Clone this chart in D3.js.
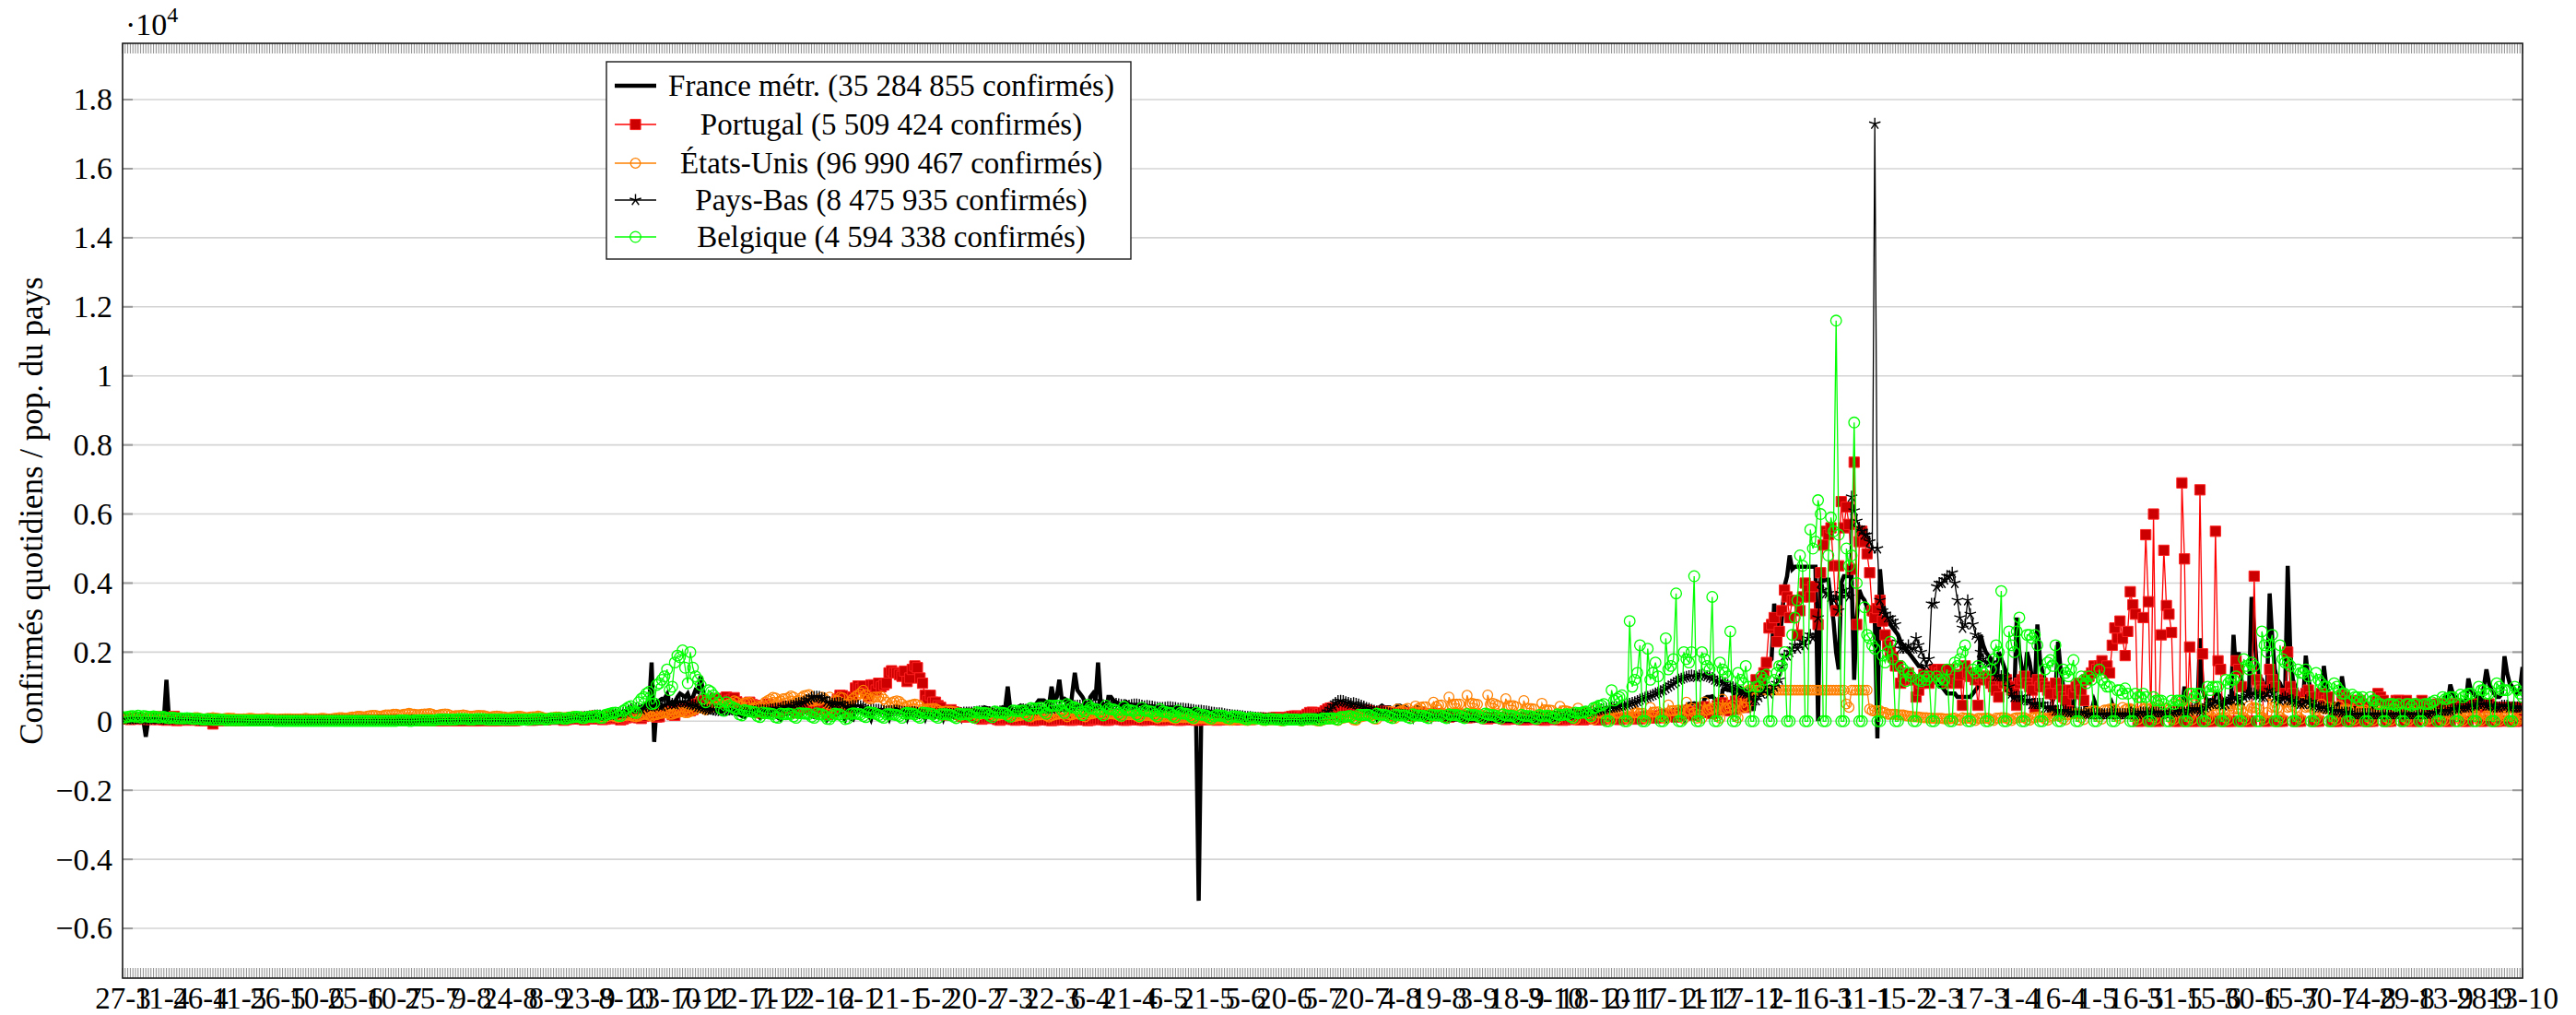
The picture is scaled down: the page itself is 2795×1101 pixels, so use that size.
<!DOCTYPE html>
<html>
<head>
<meta charset="utf-8">
<script src="https://d3js.org/d3.v7.min.js"></script>
<style>
body{margin:0;background:#fff}
svg text{font-family:"Liberation Serif","DejaVu Serif",serif;fill:#000}
</style>
</head>
<body>
<div id="chart"></div>
<script>
// daily confirmed cases / population in hundreds (x 10^2),
// one value per day from 27-3-2020 to 13-10-2022, one line per 15 days
const france = [
0.6,0.8,0.7,0.6,0.5,0.8,1.0,0.9,0.6,-4.5,0.7,0.9,0.8,0.6,0.5,
0.6,0.5,12,0.5,0.4,0.6,0.5,0.6,0.4,0.3,0.5,0.4,0.3,0.3,0.3,
0.3,0.2,0.3,0.4,0.2,0.1,0.2,0.2,0.3,0.1,-0.6,0.2,0.2,0.1,0.2,
0.2,0.1,0.1,0.2,0.1,0.1,0.1,0.1,0.1,0.2,0.1,0.1,0.1,0.1,0.1,
0.1,0.1,0.1,0.1,0.1,0.1,0.1,0.1,0.1,0.1,0.1,0.1,0.1,0.1,0.1,
0.1,0.1,0.1,0.1,0.1,0.1,0.1,0.1,0.1,0.1,0.1,0.1,0.1,0.1,0.1,
0.1,0.1,0.1,0.1,0.1,0.1,0.1,0.1,0.1,0.1,0.1,0.1,0.2,0.1,0.1,
0.1,0.1,0.1,0.1,0.1,0.1,0.1,0.2,0.1,0.1,0.1,0.2,0.2,0.1,0.1,
0.2,0.2,0.1,0.2,0.2,0.2,0.2,0.2,0.1,0.2,0.2,0.3,0.3,0.3,0.2,
0.3,0.3,0.4,0.4,0.4,0.4,0.5,0.5,0.3,0.4,0.6,0.6,0.7,0.7,0.6,
0.7,0.4,0.7,0.8,0.9,1.0,1.1,0.6,0.9,1.1,1.3,1.3,1.3,1.2,0.8,
1.1,1.4,1.5,1.5,1.6,1.3,1.0,1.5,1.7,2.0,2.0,2.0,1.6,1.1,1.6,
2.1,2.5,2.3,2.2,2.0,1.1,1.3,1.4,2.2,2.8,2.5,2.0,1.4,2.5,2.8,
2.8,3.4,4.0,3.1,1.6,2.7,3.8,4.6,5.2,4.0,17,-6,5.0,6.0,6.5,
6.5,7.8,4.0,5.5,5.3,7.0,8.0,7.5,7.0,8.0,6.0,7.0,9.0,8.5,13.0,
8.0,3.5,5.0,7.0,5.0,5.5,6.0,3.0,4.0,5.0,4.5,4.0,3.5,2.0,2.0,
1.5,1.3,2.0,2.0,2.0,2.0,1.7,1.0,1.4,1.8,1.8,1.7,1.7,1.7,1.0,
0.5,2.0,2.0,2.3,2.2,2.0,1.5,1.6,2.6,2.8,2.5,2.2,1.6,1.2,2.0,
2.3,2.4,2.5,0.5,1.5,1.0,2.0,2.0,3.0,2.0,0.5,2.5,0.8,0.5,3.0,
3.0,3.0,2.5,2.5,2.0,0.5,3.0,3.2,3.0,3.0,2.5,2.0,0.6,3.0,3.6,
3.5,3.3,3.0,2.4,0.7,3.0,3.5,3.3,3.0,3.0,2.6,0.8,3.0,3.6,3.3,
3.0,3.0,2.6,0.7,3.0,3.2,3.0,3.0,2.4,2.0,0.6,2.8,3.3,3.3,3.0,
3.0,2.8,0.8,3.0,4.0,3.8,3.6,3.4,2.8,0.9,3.3,4.0,3.8,10,3.5,
3.0,0.8,4.0,4.5,4.0,4.2,4.0,3.5,1.0,5.0,6.0,6.0,6.0,5.5,4.5,
10,6.0,7.0,12,6.0,6.5,6.0,1.5,8.0,14,9.0,8.0,7.0,5.5,2.0,
7.0,8.0,6.0,17,5.5,5.0,1.5,7.0,7.0,6.0,5.5,5.0,4.0,1.0,5.5,
5.0,4.5,4.0,3.5,3.0,0.8,4.5,4.5,4.0,3.5,3.0,2.5,0.6,3.5,3.8,
3.5,3.0,2.5,2.0,0.5,3.0,3.0,2.5,2.0,1.5,1.5,0.5,-52,2.2,2.0,
1.8,1.5,1.2,0.3,1.5,1.5,1.3,1.2,1.0,0.8,0.3,1.0,1.0,0.9,0.8,
0.7,0.6,0.2,0.7,0.6,0.6,0.5,0.5,0.4,0.1,0.5,0.5,0.4,0.4,0.3,
0.3,0.1,0.4,0.4,0.3,0.3,0.3,0.3,0.1,0.4,0.4,0.4,0.4,0.4,0.3,
0.1,0.6,0.7,0.8,0.8,0.9,0.7,0.3,1.2,1.5,1.8,1.8,2.0,1.5,0.5,
3.0,3.5,3.5,3.3,3.5,3.0,1.0,4.0,4.5,4.0,4.0,4.0,3.0,1.2,4.5,
4.5,4.0,4.0,3.5,3.0,1.0,4.0,4.0,3.5,3.5,3.0,2.5,0.8,3.5,3.3,
3.0,2.8,2.5,2.0,0.6,2.5,2.5,2.2,2.0,1.8,1.5,0.5,2.0,2.0,1.5,
1.4,1.2,1.0,0.3,1.3,1.2,1.0,1.0,0.9,0.7,0.2,1.0,1.0,0.8,0.7,
0.7,0.5,0.2,0.7,0.7,0.6,0.6,0.5,0.4,0.1,0.7,0.6,0.5,0.5,0.5,
0.4,0.1,0.6,0.6,0.5,0.5,0.5,0.4,0.1,0.6,0.6,0.6,0.6,0.5,0.4,
0.2,0.8,0.9,0.8,0.8,0.7,0.5,0.2,1.0,1.0,1.0,1.0,0.9,0.7,0.2,
1.4,1.5,1.5,1.4,1.2,0.8,0.3,2.0,2.2,2.3,1.5,1.8,1.2,0.4,2.8,
3.0,3.2,3.0,2.6,1.9,0.6,4.4,5.0,5.0,5.2,5.0,3.5,1.5,6.6,7.0,
7.0,7.2,6.5,4.8,1.8,9.0,9.5,9.0,9.0,8.5,6.0,2.0,9.5,9.0,8.5,
8.5,6,3,10,12,13,14,16,17,18,34,30,22,30,39,
42,48,44,44.7,44.7,44.7,44.7,44.7,44.7,44.7,44.7,44.7,0,41,41,
41,41,35,29,20,15,40,42,42,42,42,12,30,38,36,
35,33,31,30,29,-5,44,35,31,29,28,27,26,25,23,
22,21,20,19,18,17,16,16,15,14,14,13,12,11,10,
10,9,8,8,8,8,7,7,7,7,7,7,8,9,10,
25,22,20,19,18,12,8,20,18,16,14,13,8,6,30,
20,15,12,20,17,12,10,28,18,14,12,9,7,6,8,
23,15,10,9,8,5,4,10,7,6,5,4,3,3,6,
4,3,3,2,2,2,5,3,3,2,2,2,2,4,3,
2,2,2,2,2,2,4,3,2,2,2,2,2,3,2,
2,3,2,3,10,5,4,4,3,3,24,9,7,6,6,
6,8,8,7,6,6,6,5,25,14,20,12,10,9,8,
36,26,16,13,12,10,9,37,24,15,12,11,9,8,45,
20,12,10,8,7,6,19,12,9,8,7,6,5,16,10,
8,6,5,5,4,13,8,6,5,5,4,4,7,6,5,
5,4,4,4,6,5,5,4,4,3,4,6,5,5,4,
4,3,3,5,5,4,4,4,4,6,5,5,4,4,5,
7,5,10.6,8,7,6,6,5,5,12.4,9,8,7,7,6,
10,15,11,9,8,7,7,8,18.8,14,11,10,9,8,9,
15.7];

const portugal = [
0.7,0.8,0.9,0.5,0.8,0.7,1.0,0.6,0.6,0.7,0.6,0.5,0.7,1.3,0.5,
0.6,0.4,0.3,0.5,0.6,1.4,0.2,0.5,0.3,0.5,0.6,0.4,0.3,0.4,0.6,
0.2,0.2,0.2,0.2,0.3,-0.8,0.3,0.2,0.3,0.2,0.3,0.5,0.2,0.5,0.2,
0.2,0.3,0.2,0.2,0.2,0.2,0.2,0.3,0.3,0.2,0.2,0.3,0.2,0.2,0.2,
0.3,0.3,0.4,0.3,0.2,0.2,0.2,0.3,0.4,0.4,0.3,0.3,0.3,0.3,0.4,
0.3,0.3,0.3,0.3,0.3,0.4,0.4,0.3,0.3,0.3,0.4,0.4,0.4,0.3,0.3,
0.4,0.3,0.3,0.4,0.4,0.4,0.4,0.3,0.3,0.3,0.4,0.4,0.3,0.3,0.3,
0.4,0.4,0.3,0.3,0.2,0.3,0.3,0.3,0.3,0.2,0.2,0.2,0.2,0.2,0.2,
0.2,0.2,0.2,0.1,0.2,0.2,0.2,0.2,0.2,0.2,0.1,0.2,0.2,0.1,0.2,
0.2,0.1,0.1,0.2,0.3,0.3,0.2,0.2,0.1,0.1,0.2,0.3,0.2,0.3,0.3,
0.2,0.2,0.2,0.3,0.4,0.4,0.4,0.4,0.3,0.3,0.4,0.4,0.4,0.4,0.4,
0.6,0.6,0.6,0.7,0.6,0.6,0.3,0.5,0.6,0.7,0.7,0.8,0.7,0.6,0.4,
0.7,0.8,0.8,0.8,0.7,0.7,0.5,0.6,0.8,0.8,0.9,0.9,0.8,0.4,0.6,
1.0,1.1,1.4,1.2,1.2,1.0,0.8,1.4,2.0,2.1,2.0,2.1,1.2,1.3,2.5,
3.0,2.8,2.7,1.9,1.7,2.8,3.5,3.4,4.1,4.0,3.0,3.4,4.8,5.0,5.6,
6.0,4.1,4.2,6.0,5.8,6.5,6.6,4.8,4.3,7.0,6.0,6.3,6.8,5.6,4.5,
4.0,4.3,4.7,5.5,4.8,4.6,3.2,2.4,3.3,4.0,5.0,4.0,3.7,3.0,2.8,
3.2,3.7,4.3,4.1,4.4,3.6,2.4,3.1,4.1,4.5,4.2,4.0,3.3,2.7,3.3,
4.0,5.2,3.9,2.0,2.7,2.7,4.2,6.4,7.5,7.4,4.6,2.5,4.6,7.0,9.6,
10.2,9.5,10.2,8.2,7.2,10.5,10.5,9.0,11.0,10.0,10.5,11.0,14.0,14.6,14.0,
14.0,13.5,13.0,14.5,11.5,12.5,15.0,16.0,15.5,12.5,11.0,7.5,6.0,7.5,5.5,
5.5,4.5,4.0,2.5,1.8,2.5,3.3,2.7,2.5,2.0,1.4,1.2,1.5,2.0,1.5,
1.3,1.1,0.8,0.6,0.8,1.0,1.1,1.0,0.8,0.5,0.3,0.6,0.7,0.7,0.6,
0.5,0.3,0.4,0.5,0.6,0.5,0.4,0.3,0.2,0.3,0.4,0.4,0.4,0.4,0.3,
0.2,0.3,0.4,0.5,0.5,0.5,0.4,0.3,0.3,0.5,0.6,0.6,0.5,0.4,0.2,
0.3,0.6,0.6,0.6,0.5,0.5,0.3,0.3,0.6,0.6,0.6,0.6,0.5,0.3,0.3,
0.5,0.5,0.5,0.5,0.4,0.3,0.3,0.5,0.5,0.4,0.4,0.4,0.3,0.3,0.4,
0.5,0.5,0.5,0.4,0.3,0.3,0.4,0.5,0.5,0.5,0.4,0.3,0.3,0.4,0.5,
0.5,0.6,0.5,0.4,0.3,0.4,0.5,0.6,0.6,0.5,0.4,0.4,0.5,0.6,0.7,
0.7,0.6,0.5,0.6,0.8,0.9,0.9,0.9,0.7,0.6,0.8,1.0,1.1,1.1,0.9,
0.8,0.9,1.2,1.4,1.5,1.5,1.3,1.1,1.5,2.0,2.5,2.6,2.3,2.0,2.2,
2.5,3.0,3.5,3.8,3.9,3.0,2.5,3.2,3.8,3.8,3.7,3.2,2.5,2.2,3.0,
3.1,3.0,3.2,3.0,2.6,2.0,2.3,2.7,2.8,2.8,2.6,2.3,1.7,2.0,2.4,
2.5,2.5,2.4,2.0,1.7,2.0,2.4,2.5,2.3,2.2,1.9,1.5,1.6,2.1,2.2,
2.1,2.0,1.8,1.5,1.2,1.6,2.0,1.9,1.8,1.7,1.4,1.0,1.1,1.4,1.3,
1.3,1.2,1.1,0.8,0.7,1.0,1.1,1.1,1.0,0.9,0.7,0.5,0.6,0.8,0.8,
0.8,0.7,0.5,0.4,0.5,0.6,0.6,0.6,0.6,0.5,0.4,0.3,0.5,0.6,0.6,
0.6,0.5,0.4,0.3,0.4,0.6,0.6,0.6,0.6,0.5,0.4,0.4,0.6,0.7,0.7,
0.7,0.6,0.4,0.4,0.6,0.8,0.9,0.9,0.8,0.7,0.5,0.6,0.9,1.0,1.0,
1.0,0.9,0.6,0.7,1.1,1.3,1.5,1.5,1.3,0.9,1.0,1.6,1.9,2.0,1.9,
1.8,1.4,1.2,1.8,2.5,3.0,3.1,2.7,2.1,1.7,2.4,3.6,3.9,4.2,3.4,
2.5,2.2,3.2,4.5,5.0,5.3,4.6,3.5,3.0,4.5,5.8,5.8,5.6,5.0,4.0,
6,7,9,12,10,11,14,17,27,28,30,23,26,32,38,
36,30,35,35,25,32,36,40,38,36,39,31,28,43,51,
55,54,56,45,32,45,63.6,56,62,57,44,75,28,52,55,
52,48.5,43,32,30,32.6,35,29,25,22,20,18.6,16,16,11,
13,12,14,12,12,7,9,11,13.5,12,11,13,15,15,14,
15,13,11,15,13,12,11,13.5,4.6,16,14,13,13,12,4.6,
13,12,13,12,11,10,9,7,12,11,12,10,9,10,4.6,
11,12,13,11,10,9,4,12,10,11,10,9,8,3,11,
8,9,7,6,3,9,8,10,11,9,6,12,13,14,16,
15,16,17.5,15,16,14,22,27,24,29,24,19,26,37.5,33.7,
31,0,0,30,54,34.6,0,60,0,0,25,49.5,33.5,31,25.7,
0,0,0,69,47,0,21.5,0,0,0,67,19.5,0,0,0,
0,55,17.5,15,0,0,0,0,0,17.5,15,10,0,0,0,
0,42,12,10,9,0,0,15,12,10,0,0,0,8,20,
10,8,0,0,0,7,8,9,7,0,0,0,8,7,6,
7,0,0,0,0,7.5,7,6,0,0,0,6,6,5,0,
0,0,0,6,8,7,6,0,0,0,5,6,6,5,0,
6,5,0,0,0,5,6,5,4,0,0,0,5,5,4,
0,0,0,5,5,4,4,0,0,0,4,5,4,4,0,
0,4,5,4,0,0,0,4,4,4,0,0,0,4,3,
0];

const usa = [
0.6,0.6,0.7,0.8,0.8,0.9,1.0,1.0,0.8,0.9,0.9,1.0,1.0,1.0,1.0,
0.9,0.8,0.8,0.8,0.9,0.9,1.0,0.9,0.8,0.8,0.9,0.8,0.9,1.0,1.0,
0.8,0.7,0.7,0.8,0.9,1.0,0.9,0.8,0.7,0.7,0.8,0.9,0.8,0.8,0.6,
0.6,0.6,0.7,0.7,0.8,0.8,0.7,0.6,0.6,0.7,0.7,0.8,0.7,0.6,0.6,
0.5,0.6,0.6,0.7,0.7,0.7,0.6,0.6,0.6,0.6,0.7,0.8,0.7,0.6,0.6,
0.7,0.7,0.8,0.8,0.7,0.6,0.7,0.8,0.9,1.0,1.0,0.9,0.9,1.1,1.2,
1.2,1.4,1.4,1.3,1.3,1.5,1.6,1.7,1.7,1.5,1.4,1.6,1.8,1.8,1.8,
2.0,2.0,1.8,1.8,2.0,2.1,2.3,2.1,2.0,1.9,1.9,2.0,2.1,2.1,2.2,
2.0,1.7,1.7,1.9,2.0,2.1,2.0,1.7,1.4,1.6,1.6,1.7,1.8,1.7,1.5,
1.4,1.5,1.6,1.7,1.6,1.6,1.4,1.2,1.3,1.4,1.5,1.4,1.3,1.2,1.0,
1.1,1.2,1.3,1.4,1.4,1.3,1.1,1.0,1.2,1.3,1.3,1.5,1.3,1.0,0.8,
0.8,1.0,1.1,1.2,1.2,1.0,1.0,1.1,1.2,1.3,1.4,1.2,1.0,1.3,1.2,
1.3,1.4,1.6,1.5,1.1,1.1,1.3,1.3,1.4,1.7,1.5,1.3,1.1,1.3,1.5,
1.7,1.8,1.6,1.4,1.3,1.5,1.8,2.0,2.1,1.7,1.4,1.8,1.9,2.2,2.3,
2.5,2.5,2.0,2.0,2.3,2.5,2.7,2.9,2.5,2.5,2.8,3.2,3.6,3.9,3.9,
3.8,3.3,3.6,4.1,4.3,4.8,5.0,4.8,4.0,4.7,5.0,5.2,5.9,5.5,4.5,
4.3,5.3,5.4,5.5,3.6,3.9,4.4,4.0,4.6,5.5,6.0,6.4,6.9,6.7,5.6,
5.9,6.5,6.6,6.8,7.3,7.0,5.8,6.0,6.8,7.4,7.5,7.7,5.8,5.8,6.2,
6.0,7.0,6.5,3.0,7.0,4.5,6.0,6.0,7.0,6.8,5.0,5.0,5.5,6.5,7.2,
7.6,8.2,9.0,7.7,6.6,6.4,7.0,7.0,7.0,7.2,6.4,5.5,4.2,5.4,5.7,
5.9,5.7,5.0,4.1,4.4,4.6,4.8,5.0,4.8,4.3,3.4,3.3,3.6,3.6,3.7,
3.6,3.2,2.6,2.8,2.9,2.9,2.9,2.7,2.4,1.9,1.6,1.9,2.1,2.0,2.3,
2.2,1.7,1.9,2.2,2.2,2.3,2.4,2.0,1.6,1.7,1.8,2.0,2.0,2.0,1.8,
1.3,1.4,1.7,1.7,1.9,1.9,1.6,1.2,1.7,1.8,1.8,1.9,1.9,1.6,1.2,
1.6,1.8,2.0,2.1,2.3,2.0,1.3,1.9,1.9,2.2,2.1,2.1,1.8,1.3,2.1,
2.1,2.2,2.4,2.4,2.2,1.6,2.0,2.1,2.3,2.1,2.0,1.6,1.3,1.9,1.9,
1.9,1.9,1.9,1.5,1.1,1.6,1.6,1.7,1.7,1.5,1.2,0.9,1.3,1.3,1.3,
1.4,1.2,0.9,0.7,1.0,1.1,1.0,1.1,1.0,0.8,0.5,0.7,0.9,0.8,0.9,
0.8,0.5,0.4,0.6,0.7,0.7,0.7,0.6,0.4,0.3,0.3,0.5,0.6,0.5,0.4,
0.3,0.2,0.5,0.5,0.5,0.6,0.5,0.2,0.2,0.4,0.4,0.4,0.4,0.3,0.1,
0.2,0.3,0.4,0.4,0.4,0.4,0.2,0.1,0.5,0.4,0.5,0.5,0.3,0.1,0.1,
0.3,0.7,0.6,0.7,0.9,0.5,0.2,1.1,0.9,1.1,1.2,1.0,0.4,0.3,1.5,
1.3,1.5,1.7,1.9,1.7,0.7,0.6,2.3,2.0,2.2,2.5,2.8,1.3,0.8,3.5,
2.9,3.0,3.4,3.7,1.8,1.2,4.4,3.6,4.0,4.2,4.2,2.0,1.3,5.5,4.2,
4.6,4.7,2.0,1.3,7.0,4.8,5.0,5.0,5.0,2.2,1.5,7.5,5.0,5.2,5.0,
4.9,2.0,1.5,1.0,7.6,4.9,5.2,4.9,4.5,2.0,1.2,6.5,4.5,4.5,4.5,
4.2,1.7,1.0,6.0,3.7,3.7,3.6,3.5,1.5,0.9,5.2,3.3,3.2,3.2,3.1,
1.2,0.8,4.3,3.0,3.0,2.9,2.6,1.0,0.6,3.8,2.5,2.6,2.4,2.5,1.0,
0.5,3.5,2.4,2.3,2.2,2.3,0.9,0.5,3.5,2.3,2.3,2.2,2.2,0.9,0.5,
3.5,2.4,2.4,2.3,2.3,0.9,0.6,4.0,2.6,2.6,2.7,1.6,1.1,0.7,4.7,
3.0,3.0,3.1,3.2,1.2,0.7,5.5,3.2,3.7,2.4,0.9,1.8,0.9,5.6,3.2,
3.5,3.7,4.0,1.5,0.9,6.4,3.6,3.8,3.9,4.5,1.6,1.0,7.0,3.9,4.2,
9,9,9,9,9,9,9,9,9,9,9,9,9,9,9,
9,9,9,9,9,9,9,9,9,9,9,9,9,9,9,
9,9,9,9,9,9,9,9,5,4,9,9,9,9,9,
9,9,3.5,3,3,3,3,2.5,2.5,2,2,2,2,1.8,1.8,
1.8,1.6,1.5,1.4,1.3,1.3,1.2,1.1,1.0,1.0,0.9,0.9,0.8,0.8,0.8,
0.8,0.7,0.7,0.7,0.8,0.9,0.4,0.3,1.0,0.8,0.9,0.8,0.5,0.2,0.8,
0.8,0.8,0.9,0.8,0.4,0.2,0.9,0.9,1.0,1.0,0.9,0.5,0.2,0.8,1.0,
1.0,1.1,1.0,0.5,0.3,1.0,1.1,1.2,1.3,1.2,0.6,0.3,1.2,1.5,1.6,
1.6,1.6,0.7,0.4,1.8,2.0,2.2,2.2,2.1,1.0,0.5,2.5,2.4,2.9,3.0,
2.8,1.3,0.6,3.2,3.2,3.5,3.6,3.5,1.5,0.8,4.0,3.3,3.7,3.6,3.2,
1.2,0.5,4.2,3.5,3.7,3.6,3.5,1.2,0.6,4.5,3.5,3.7,3.8,3.3,0.7,
0.5,2.5,5.0,3.8,4.0,3.3,1.2,0.5,4.8,3.5,3.5,3.6,3.3,1.0,0.5,
4.5,3.3,3.3,3.4,3.3,1.0,0.5,4.5,3.5,3.5,3.6,3.3,1.0,0.5,4.4,
3.8,4.0,3.8,3.5,1.2,0.5,2.5,7.5,4.0,4.2,3.8,1.2,0.6,5.5,4.0,
4.2,4.4,3.8,1.2,0.6,5.5,4.0,4.2,4.2,3.5,1.0,0.5,5.0,3.6,3.6,
3.8,3.2,0.9,0.4,4.5,3.2,3.2,3.5,3.0,0.8,0.4,4.2,2.9,2.8,3.2,
2.7,0.7,0.3,3.8,2.6,2.7,2.8,2.4,0.7,0.3,3.6,2.4,2.5,2.6,2.2,
0.6,0.3,2.8,2.2,2.0,2.5,2.0,0.6,0.3,0.8,2.8,2.2,2.3,2.0,0.5,
0.3,3.0,2.0,2.0,2.1,1.9,0.5,0.2,2.8,1.8,1.8,2.0,1.6,0.4,0.2,
2.4,1.6,1.6,1.7,1.5,0.4,0.2,2.3,1.5,1.5,1.6,1.3,0.3,0.2,1.0,
1.4];

const paysBas = [
0.7,0.7,0.5,0.5,0.6,0.7,0.7,0.7,0.6,0.5,0.5,0.6,0.7,0.7,0.6,
0.6,0.6,0.4,0.5,0.6,0.7,0.7,0.6,0.5,0.5,0.4,0.5,0.5,0.5,0.4,
0.3,0.2,0.2,0.3,0.3,0.3,0.3,0.2,0.2,0.2,0.2,0.2,0.2,0.2,0.2,
0.1,0.1,0.1,0.1,0.1,0.1,0.1,0.1,0.1,0.1,0.1,0.1,0.1,0.1,0.1,
0.1,0.1,0.1,0.1,0.1,0.1,0.1,0.1,0.1,0.1,0.1,0.1,0.1,0.1,0.1,
0.1,0.1,0.1,0.1,0.1,0.1,0.1,0.1,0.1,0.1,0.0,0.0,0.0,0.0,0.0,
0.0,0.0,0.0,0.0,0.0,0.0,0.0,0.0,0.0,0.1,0.1,0.1,0.1,0.1,0.1,
0.1,0.1,0.1,0.1,0.1,0.1,0.1,0.2,0.2,0.2,0.2,0.2,0.2,0.2,0.2,
0.2,0.2,0.2,0.2,0.3,0.3,0.3,0.3,0.3,0.3,0.3,0.3,0.4,0.4,0.4,
0.4,0.3,0.3,0.3,0.4,0.4,0.4,0.4,0.4,0.4,0.3,0.3,0.3,0.3,0.3,
0.3,0.3,0.3,0.3,0.3,0.3,0.3,0.3,0.3,0.3,0.4,0.4,0.4,0.4,0.4,
0.5,0.5,0.6,0.6,0.6,0.6,0.7,0.7,0.8,0.9,1.0,1.0,1.0,1.1,1.2,
1.2,1.3,1.4,1.6,1.6,1.6,1.5,1.6,1.8,1.8,2.0,2.2,2.3,2.3,2.4,
2.7,3.0,3.5,3.6,3.7,3.6,3.4,4.0,4.4,4.3,4.2,4.6,4.8,4.5,4.3,
4.8,5.3,5.6,5.0,4.9,5.4,5.6,5.6,5.5,5.2,4.9,4.7,4.6,4.2,4.0,
3.8,3.5,3.3,3.2,3.3,3.1,3.0,2.9,3.0,3.1,3.1,3.2,3.3,3.2,3.0,
2.8,2.8,2.9,2.9,2.8,2.9,3.0,3.1,3.2,3.1,3.2,3.4,3.4,3.6,3.6,
3.7,4.1,4.2,4.1,4.4,4.5,5.0,5.2,5.3,5.6,6.1,6.3,6.9,7.0,7.1,
7.0,6.6,6.6,5.6,5.3,5.0,5.1,5.2,5.3,5.0,4.3,4.0,4.1,4.4,4.3,
4.5,4.3,4.0,3.5,3.1,3.2,3.3,3.3,3.3,3.1,2.9,2.8,2.8,2.9,3.0,
3.0,2.9,2.7,2.6,2.5,2.5,2.6,2.6,2.4,2.2,2.0,2.1,2.2,2.2,2.1,
2.0,2.0,2.0,2.1,2.2,2.1,2.1,2.0,2.1,2.2,2.3,2.5,2.5,2.5,2.5,
2.6,2.7,2.8,2.8,2.7,2.5,2.6,2.6,2.7,2.7,2.8,2.9,3.0,3.1,3.0,
2.8,2.9,3.0,3.3,3.4,3.3,3.2,3.1,3.2,3.4,3.6,3.8,3.7,3.6,3.5,
3.6,3.7,3.9,4.1,4.2,4.1,4.0,4.1,4.2,4.4,4.5,4.5,4.3,4.2,4.1,
4.2,4.4,4.5,4.7,4.8,4.6,4.5,4.6,4.8,4.9,5.0,4.9,4.7,4.6,4.5,
4.5,4.7,4.8,4.8,4.7,4.5,4.3,4.4,4.3,4.2,4.0,3.9,3.8,3.8,3.9,
4.0,4.0,3.9,3.8,3.6,3.6,3.6,3.5,3.5,3.3,3.2,3.0,3.0,3.0,2.9,
2.8,2.7,2.5,2.4,2.3,2.3,2.2,2.0,1.9,1.8,1.7,1.6,1.6,1.5,1.4,
1.3,1.2,1.2,1.1,1.0,0.9,0.9,0.8,0.7,0.7,0.6,0.6,0.5,0.5,0.4,
0.4,0.3,0.3,0.3,0.3,0.3,0.3,0.4,0.4,0.5,0.5,0.6,0.7,0.8,1.0,
1.5,2.0,2.8,3.5,4.5,5.3,5.8,5.9,5.8,5.5,5.3,5.0,5.2,5.0,4.8,
4.5,4.2,3.8,3.6,3.3,3.0,2.8,2.7,2.6,2.5,2.4,2.2,2.0,1.9,1.9,
1.9,1.8,1.8,1.7,1.7,1.6,1.6,1.6,1.6,1.6,1.5,1.5,1.5,1.5,1.5,
1.5,1.4,1.4,1.4,1.3,1.3,1.3,1.3,1.3,1.2,1.2,1.2,1.2,1.1,1.1,
1.1,1.1,1.0,1.0,1.0,1.0,1.0,1.0,1.0,1.0,0.9,0.9,0.9,0.9,0.9,
0.9,0.9,0.9,0.9,0.9,0.9,1.0,1.0,1.0,1.1,1.1,1.1,1.2,1.2,1.3,
1.3,1.4,1.5,1.6,1.7,1.8,1.9,2.0,2.1,2.2,2.3,2.4,2.5,2.6,2.8,
2.9,3.0,3.2,3.4,3.5,3.6,3.8,3.9,4.0,4.1,4.3,4.5,4.6,4.8,5.0,
5.3,5.5,5.8,6.2,6.5,6.8,7.0,7.3,7.6,8.0,8.3,8.7,9.0,9.5,10.0,
10.5,11.0,11.5,12.0,12.3,12.6,12.8,13.0,13.2,13.0,12.8,13.2,13.5,13.3,13.0,
12.8,12.5,12.0,11.5,11.5,11.2,11.0,10.5,10.0,9.8,9.5,9.0,8.5,8.2,8.0,
8,7,6,6,7,8,9,10,8,9,10,11,12,16,19,
19,20,21,22,21,22,23,22,24,25,24,25,30,40,38,
37,37,36,35,36,32,37,38,37,36,65,61,58,56,55,
54,54,52,50,173,50,35,32,31,30,30,29,28,23,21,
21,21,22,21,21,24,22,20,18,16,18,34,34,39,40,
40,41,42,42,43,40,35,30,27,28,35,31,28,25,24,
20,18,17,17,17,17,13,13,13,13,12,10,8,7,7,
7,7,6,6,6,5,5,5,5,5,4,4,4,4,3,
3,3,3,3,2.5,2.5,2.5,2.5,2.5,2.5,2.5,2,2,2,2,
2,2,2,2,2,2,2,2,2,2,2,2,2,2,2,
2,2,2.5,2.5,2.5,2,2,2.5,2.5,2.5,2.5,2.5,2,2,2.5,
2.5,3,3,3,2.5,2.5,3,3.5,3.5,3.5,3,3,4,4.5,5,
5,6,5.5,5,4.5,5,6,6.5,7,6.5,6,6,7,7.5,8,
8,8,7.5,7.5,7,7,8,9,8,7,6.5,6,6.5,7,6.5,
6,6,5.5,5.5,5,5,6,5.5,5,4.5,4.5,4,4,4,3.5,
3.5,3,3,3,3,2.5,2.5,2.5,2.5,2,2,2,2,2,2,
2,2,2,2,2,2,2,2,2,2,2,2,2,2,2,
2,2,2,2,2,2,2,2,2,2,2.5,2.5,2.5,3,3,
3,3,3,3.5,3.5,3.5,4,4,4,4,4.5,4.5,4.5,5,5,
5,4.5,4.5,4.5,4,4,4,4.5,4.5,4.5,4,4,4,4,4,
4];

const belgique = [
1.2,1.1,1.3,1.4,1.5,1.3,1.6,1.1,1.5,1.4,1.3,1.2,1.4,1.3,1.1,
1.2,1.3,1.0,0.9,1.1,1.0,0.8,0.9,0.8,0.8,0.9,0.8,0.7,0.6,0.7,
0.6,0.5,0.5,0.6,0.5,0.4,0.4,0.4,0.4,0.4,0.3,0.3,0.3,0.3,0.3,
0.3,0.3,0.3,0.2,0.2,0.2,0.2,0.2,0.2,0.2,0.2,0.2,0.2,0.2,0.1,
0.1,0.1,0.1,0.1,0.1,0.1,0.1,0.1,0.1,0.1,0.1,0.1,0.1,0.1,0.1,
0.1,0.1,0.1,0.1,0.1,0.1,0.1,0.1,0.1,0.1,0.1,0.1,0.1,0.1,0.1,
0.1,0.1,0.1,0.1,0.1,0.1,0.1,0.1,0.1,0.1,0.1,0.1,0.1,0.1,0.1,
0.1,0.1,0.2,0.2,0.2,0.2,0.1,0.1,0.2,0.2,0.3,0.3,0.3,0.3,0.3,
0.3,0.3,0.4,0.5,0.5,0.5,0.5,0.4,0.5,0.5,0.6,0.6,0.6,0.6,0.5,
0.5,0.5,0.6,0.6,0.6,0.6,0.5,0.4,0.5,0.5,0.5,0.5,0.5,0.4,0.4,
0.4,0.4,0.5,0.5,0.5,0.5,0.5,0.4,0.5,0.6,0.6,0.6,0.7,0.6,0.5,
0.6,0.8,0.8,0.8,0.9,0.9,0.7,0.7,1.0,1.1,1.2,1.3,1.2,0.9,0.9,
1.2,1.3,1.2,1.4,1.6,1.0,1.0,1.8,2.0,2.2,2.4,2.5,1.6,1.5,3.0,
3.5,4.0,4.4,2.6,2.4,5.5,6.5,7.0,8.0,8.5,5.0,5.2,10.5,11.0,12.0,
13.0,15.0,9.0,10.0,17.0,19.0,18.5,20.5,15.5,11.0,20.0,15.5,13.0,12.0,10.5,
6.5,5.5,9.0,8.5,7.5,6.5,5.5,3.5,3.0,5.5,4.5,4.2,3.8,3.5,2.0,
1.7,3.2,3.0,2.9,2.7,2.6,1.5,1.2,2.5,2.3,2.3,2.2,2.1,1.2,1.0,
2.2,2.1,2.0,2.2,2.1,1.4,1.0,2.3,2.3,2.2,2.2,2.1,1.3,1.0,2.3,
2.0,2.0,1.6,0.7,0.6,1.5,2.2,2.0,2.0,1.4,0.6,0.8,2.1,2.3,2.2,
2.1,2.0,1.5,1.2,2.6,2.5,2.4,2.1,1.8,1.3,1.0,2.0,2.0,2.0,1.9,
1.8,1.5,1.0,2.2,2.4,2.2,2.2,2.0,1.4,1.0,2.5,2.4,2.3,2.2,2.0,
1.4,1.0,2.0,2.0,2.0,1.9,1.8,1.3,0.9,2.2,2.0,2.0,2.0,2.0,1.4,
1.0,2.6,2.4,2.4,2.4,2.3,1.6,1.2,2.8,2.5,2.5,2.4,2.3,1.7,1.3,
3.1,3.0,2.9,3.0,3.1,2.2,1.6,3.8,3.6,3.7,3.8,3.9,2.8,2.2,4.6,
4.4,4.5,4.6,4.6,3.2,2.4,5.0,4.5,4.0,4.0,3.6,2.6,1.8,2.8,4.8,
4.0,3.6,3.5,3.3,2.3,1.7,4.5,3.7,3.5,3.4,3.1,2.2,1.6,4.2,3.3,
3.2,3.1,2.9,2.0,1.5,3.9,3.1,3.0,2.9,2.7,1.9,1.4,3.5,2.8,2.7,
2.5,2.4,1.6,1.2,3.1,2.4,2.2,2.2,2.0,1.4,1.0,2.5,2.0,1.9,1.8,
1.6,1.1,0.8,1.5,1.8,1.6,1.6,1.5,1.0,0.8,1.4,1.4,1.2,1.2,1.0,
0.7,0.5,1.0,0.9,0.8,0.8,0.7,0.5,0.4,0.6,0.6,0.6,0.5,0.5,0.4,
0.3,0.6,0.5,0.5,0.5,0.5,0.4,0.3,0.6,0.6,0.6,0.6,0.6,0.4,0.3,
0.8,0.7,0.8,0.8,0.9,0.6,0.5,1.2,1.2,1.3,1.5,1.5,1.0,0.8,1.9,
1.8,1.8,1.9,1.8,1.3,1.0,2.2,1.9,1.9,1.8,1.7,1.2,0.9,1.9,1.8,
1.7,1.7,1.7,1.2,0.9,2.0,1.7,1.7,1.6,1.6,1.2,0.9,1.9,1.8,1.7,
1.7,1.7,1.2,0.9,2.0,1.8,1.8,1.8,1.6,1.2,0.9,2.1,1.8,1.8,1.8,
1.6,1.2,0.9,2.2,2.0,1.8,1.8,1.6,1.1,0.8,2.0,1.7,1.6,1.6,1.5,
1.0,0.7,1.9,1.6,1.5,1.5,1.4,0.9,0.7,1.8,1.5,1.5,1.6,1.5,1.0,
0.8,2.0,1.8,1.8,2.0,2.0,1.4,1.0,2.5,2.3,2.4,2.6,2.8,2.0,1.5,
3.8,4.0,4.5,4.6,5.0,0,0,9,6,6.5,7,7.5,0,0,29,
10,12,14,22,0,0,21,12,14,17,13,0,0,24,15,
16,18,37,0,0,20,18,17,20,42,0,0,20,18,16,
15,36,0,0,17,15,14,13,26,0,0,14,12,11,16,
10,0,0,10,10,13,12,13.5,0,0,12,14,16,16,20,
0,0,25,30,35,48,45,0,0,55.5,50,52,64,60,0,
0,48,59,55,116,54,0,0,50,45,48,86.5,40,0,0,
33,25,24,22,21,0,0,19,17,20,23,18,0,0,16,
15,11.6,14,13,0,0,12,11.6,13,12,13,0,0,13,12,
11,12,15,0,0,17,16,18,20,22,0,0,15,14,16,
15,14,0,0,15,18,22,20,37.7,0,0,26,22,20,26,
30,0,0,25,25,24,25,22,0,0,15,17,17.7,16,22,
0,0,15,14,13,15,17.7,0,0,13,12,11,13,12,0,
0,15,12,11,10,10,0,0,9,9,8,9.5,8,0,0,
8,7,7,8,7,0,0,7,6,6,6,5,0,0,6,
5,6,6,6,0,0,8,8,7,8,8,0,0,10,9,
10,10,10,0,0,12,11,12,12,13,0,0,18,16,15,
17,16,0,0,26,22,20,22,25,0,0,22,18,17,17,
16,0,0,15,14,14,15,13,0,0,14,12,11,10,10,
0,0,11,10,9,8,8,0,0,7.7,7,7,6,7,0,
0,7,6,6,5,5,0,0,5,5,5,4.5,5,0,0,
5,5,4.5,5,5,0,0,5,5,5,5.5,6,0,0,7,
6.4,6.5,7,7,0,0,7.7,7,7.5,8,8,0,0,10,9,
9,8,8,0,0,11,10,9,9,9,0,0,10,9,8,
7];

// x tick labels, one every 15 days from the first day
const tickLabels = ["27-3","11-4","26-4","11-5","26-5","10-6","25-6","10-7","25-7","9-8","24-8","8-9","23-9","8-10","23-10","7-11","22-11","7-12","22-12","6-1","21-1","5-2","20-2","7-3","22-3","6-4","21-4","6-5","21-5","5-6","20-6","5-7","20-7","4-8","19-8","3-9","18-9","3-10","18-10","2-11","17-11","2-12","17-12","1-1","16-1","31-1","15-2","2-3","17-3","1-4","16-4","1-5","16-5","31-5","15-6","30-6","15-7","30-7","14-8","29-8","13-9","28-9","13-10"];
const tickStep = 15;
// y ticks, same hundreds unit as the data (label is value / 100, times 10^4)
const yTicks = [-60,-40,-20,0,20,40,60,80,100,120,140,160,180];
const yDomain = [-74.4, 196.3];

const seriesNames = ["France métr.","Portugal","États-Unis","Pays-Bas","Belgique"];
const seriesTotals = ["35 284 855","5 509 424","96 990 467","8 475 935","4 594 338"];

const W = 2795, H = 1101;
const margin = {left:133, right:2737, top:47, bottom:1061};

const svg = d3.select("#chart").append("svg")
	.attr("width", W).attr("height", H)
	.style("background","#fff");

const nDays = france.length;
const x = d3.scaleLinear().domain([0, nDays-1]).range([margin.left, margin.right]);
const y = d3.scaleLinear().domain(yDomain).range([margin.bottom, margin.top]);

svg.append("defs").append("clipPath").attr("id","plotclip")
	.append("rect")
	.attr("x", margin.left).attr("y", margin.top)
	.attr("width", margin.right-margin.left).attr("height", margin.bottom-margin.top);

// grid
svg.append("g").selectAll("line").data(yTicks).enter().append("line")
	.attr("x1", margin.left).attr("x2", margin.right)
	.attr("y1", d=>y(d)).attr("y2", d=>y(d))
	.attr("stroke","#d4d4d4").attr("stroke-width",1.6);

// y ticks left and right
const yt = svg.append("g").attr("stroke","#9a9a9a").attr("stroke-width",2);
yTicks.forEach(function(d){
	yt.append("line").attr("x1",margin.left).attr("x2",margin.left+11).attr("y1",y(d)).attr("y2",y(d));
	yt.append("line").attr("x1",margin.right-11).attr("x2",margin.right).attr("y1",y(d)).attr("y2",y(d));
});

// one x tick per day, top and bottom
const days = d3.range(nDays);
const xt = svg.append("g").attr("stroke","#8c8c8c").attr("stroke-width",1);
xt.selectAll(".tb").data(days).enter().append("line")
	.attr("x1",d=>x(d)).attr("x2",d=>x(d))
	.attr("y1",margin.bottom-11).attr("y2",margin.bottom);
xt.selectAll(".tt").data(days).enter().append("line")
	.attr("x1",d=>x(d)).attr("x2",d=>x(d))
	.attr("y1",margin.top).attr("y2",margin.top+11);

// axes labels through d3 axes
const yAxis = svg.append("g")
	.attr("transform","translate(" + margin.left + ",0)")
	.call(d3.axisLeft(y).tickValues(yTicks).tickSize(0).tickPadding(11)
		.tickFormat(d => String(d/100).replace("-","\u2212")));
yAxis.select(".domain").remove();
yAxis.selectAll("text").attr("font-size",34).attr("font-family","Liberation Serif");

const xAxis = svg.append("g")
	.attr("transform","translate(0," + margin.bottom + ")")
	.call(d3.axisBottom(x).tickValues(d3.range(0, nDays, tickStep)).tickSize(0).tickPadding(10)
		.tickFormat((d,i) => tickLabels[i]));
xAxis.select(".domain").remove();
xAxis.selectAll("text").attr("font-size",33).attr("font-family","Liberation Serif");

// scale label
const sc = svg.append("text").attr("x",136).attr("y",38).attr("font-size",34);
sc.append("tspan").text("\u00b710");
sc.append("tspan").attr("font-size",24).attr("dy",-14).text("4");

svg.append("text")
	.attr("transform","translate(46," + ((margin.top+margin.bottom)/2) + ") rotate(-90)")
	.attr("text-anchor","middle").attr("font-size",35)
	.text("Confirmés quotidiens / pop. du pays");

// five-armed star like the pgfplots "star" mark
const starMark = {
	draw(ctx, size){
		const r = Math.sqrt(size);
		for(let k=0;k<5;k++){
			const a = -Math.PI/2 + k*2*Math.PI/5;
			ctx.moveTo(0,0);
			ctx.lineTo(r*Math.cos(a), r*Math.sin(a));
		}
	}
};
const squareMark = {
	draw(ctx, size){ const r = Math.sqrt(size); ctx.rect(-r,-r,2*r,2*r); }
};
const circleMark = {
	draw(ctx, size){ const r = Math.sqrt(size); ctx.moveTo(r,0); ctx.arc(0,0,r,0,2*Math.PI); }
};

const styles = [
	{data:france,   line:"#000", width:4.5, mark:null},
	{data:portugal, line:"#ff0000", width:1.3, mark:squareMark, msize:5.6, fill:"#cc0000", mstroke:"#ff2020", mwidth:1},
	{data:usa,      line:"#ff8000", width:1.3, mark:circleMark, msize:5.3, fill:"none", mstroke:"#ff8000", mwidth:1.3},
	{data:paysBas,  line:"#000", width:1.3, mark:starMark, msize:6.5, fill:"none", mstroke:"#000", mwidth:1.4},
	{data:belgique, line:"#00ff00", width:1.3, mark:circleMark, msize:5.8, fill:"none", mstroke:"#00ff00", mwidth:1.3}
];

const line = d3.line().x((d,i)=>x(i)).y(d=>y(d));
const plot = svg.append("g").attr("clip-path","url(#plotclip)");

styles.forEach(function(s){
	plot.append("path").datum(s.data)
		.attr("d", line)
		.attr("fill","none")
		.attr("stroke", s.line)
		.attr("stroke-width", s.width)
		.attr("stroke-linejoin","miter");
	if(s.mark){
		const sym = d3.symbol().type(s.mark).size(s.msize*s.msize);
		plot.append("g").selectAll("path").data(s.data).enter().append("path")
			.attr("transform",(d,i)=>"translate(" + x(i) + "," + y(d) + ")")
			.attr("d", sym)
			.attr("fill", s.fill)
			.attr("stroke", s.mstroke)
			.attr("stroke-width", s.mwidth);
	}
});

// frame
svg.append("rect")
	.attr("x",margin.left).attr("y",margin.top)
	.attr("width",margin.right-margin.left).attr("height",margin.bottom-margin.top)
	.attr("fill","none").attr("stroke","#1a1a1a").attr("stroke-width",1.6);

// legend
const lg = svg.append("g");
lg.append("rect").attr("x",658).attr("y",67).attr("width",569).attr("height",214)
	.attr("fill","#fff").attr("stroke","#1a1a1a").attr("stroke-width",1.4);
const rowY = [93,135,177,217,257];
styles.forEach(function(s,i){
	const cy = rowY[i];
	lg.append("line").attr("x1",667).attr("x2",712).attr("y1",cy).attr("y2",cy)
		.attr("stroke",s.line).attr("stroke-width",s.width);
	if(s.mark){
		lg.append("path").attr("transform","translate(689.5," + cy + ")")
			.attr("d", d3.symbol().type(s.mark).size(s.msize*s.msize))
			.attr("fill", s.fill).attr("stroke", s.mstroke).attr("stroke-width", s.mwidth);
	}
	lg.append("text").attr("x",967).attr("y",cy+11).attr("text-anchor","middle")
		.attr("font-size",33)
		.text(seriesNames[i] + " (" + seriesTotals[i] + " confirmés)");
});
</script>
</body>
</html>
